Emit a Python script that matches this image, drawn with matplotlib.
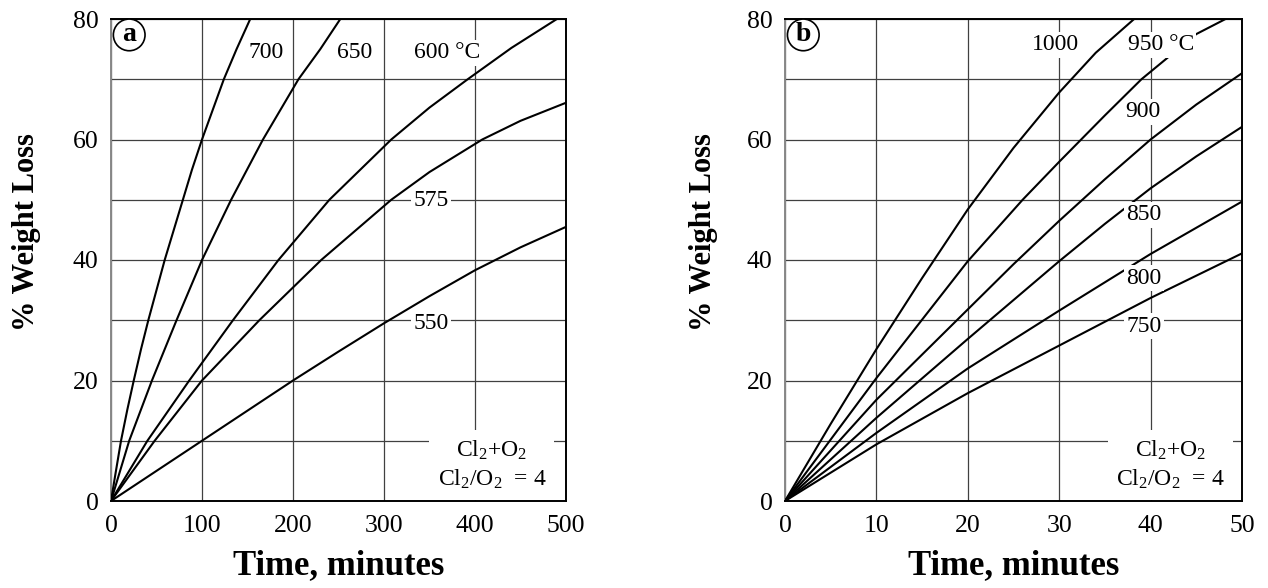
import numpy as np
import matplotlib
matplotlib.use("Agg")
import matplotlib.pyplot as plt

plt.rcParams['font.family'] = ['Liberation Serif', 'DejaVu Serif']
plt.rcParams['mathtext.fontset'] = 'custom'
plt.rcParams['mathtext.rm'] = 'Liberation Serif'
plt.rcParams['mathtext.it'] = 'Liberation Serif:italic'
plt.rcParams['mathtext.bf'] = 'Liberation Serif:bold'

# panel a: 550-700 C, time in minutes
t_a700 = [0, 5, 11, 18, 25, 33, 41, 50, 59, 69, 79, 89, 100, 112, 124, 138, 153]
w_a700 = [0, 4.6, 10, 15.2, 20, 25.2, 30, 35, 40, 45, 50, 55, 60, 65, 70, 75, 80]
t_a650 = [0, 20, 45, 72, 100, 132, 167, 206, 230, 252]
w_a650 = [0, 10, 20, 30, 40, 50, 60, 70, 75, 80]
t_a600 = [0, 40, 86, 134, 184, 240, 308, 350, 392, 440, 490]
w_a600 = [0, 10, 20, 30, 40, 50, 60, 65.3, 70, 75.2, 80]
t_a575 = [0, 48, 100, 163, 231, 308, 350, 408, 450, 500]
w_a575 = [0, 10, 20, 30, 40, 50, 54.6, 60, 63.1, 66.1]
t_a550 = [0, 100, 200, 250, 300, 350, 400, 450, 500]
w_a550 = [0, 10, 20, 24.8, 29.5, 34.0, 38.3, 42.1, 45.5]

# panel b: 750-1000 C
t_b1000 = [0, 5, 10, 15, 20, 25, 30, 34, 38.2]
w_b1000 = [0, 12.8, 25.2, 37.0, 48.4, 58.6, 67.8, 74.4, 80]
t_b950 = [0, 10, 20, 26, 30, 35, 39, 45, 48.2]
w_b950 = [0, 20.4, 39.8, 50, 56.3, 64.0, 70, 77.5, 80]
t_b900 = [0, 10, 20, 25, 30, 35, 40, 45, 50]
w_b900 = [0, 16.8, 31.8, 39.3, 46.5, 53.4, 60, 65.8, 71]
t_b850 = [0, 10, 20, 30, 35, 40, 45, 50]
w_b850 = [0, 13.8, 26.9, 39.8, 46.0, 51.9, 57.2, 62.1]
t_b800 = [0, 10, 20, 30, 40, 50]
w_b800 = [0, 11.3, 22.0, 31.6, 41.0, 49.7]
t_b750 = [0, 10, 20, 30, 40, 50]
w_b750 = [0, 9.4, 17.9, 25.8, 33.7, 41.1]

labels_a = ["700", "650", "600 °C", "575", "550"]
label_pos_a = [(170, 74.4), (268, 74.4), (369, 74.4), (352, 49.8), (352, 29.4)]
labels_b = ["1000", "950 °C", "900", "850", "800", "750"]
label_pos_b = [(29.6, 75.7), (41.1, 75.7), (39.2, 64.6), (39.3, 47.5), (39.3, 37.0), (39.3, 29.0)]

fig = plt.figure(figsize=(12.68, 5.88), dpi=100)
ax1 = fig.add_axes([111/1268, 87/588, 455/1268, 482/588])
ax2 = fig.add_axes([785/1268, 87/588, 457/1268, 482/588])


def style(ax, xmax, xstep, letter, ylab_x):
    ax.set_xlim(0, xmax)
    ax.set_ylim(0, 80)
    ax.set_xticks(np.arange(0, xmax + 1, xstep))
    ax.set_yticks(np.arange(0, 81, 20))
    ax.set_yticks(np.arange(10, 80, 20), minor=True)
    ax.tick_params(which='both', length=0, labelsize=18.5)
    ax.tick_params(axis='x', pad=10)
    ax.tick_params(axis='y', pad=9)
    ax.grid(True, which='both', color='#404040', linewidth=0.9)
    for tk in ax.yaxis.get_minor_ticks():
        if abs(tk.get_loc() - 70) < 1e-6:
            tk.gridline.set_color('#e6e6e6')
    ax.set_axisbelow(True)
    for s in ax.spines.values():
        s.set_linewidth(1.4)
    ax.spines['left'].set_color('#888888')
    ax.set_xlabel("Time, minutes", fontsize=25, fontweight='bold')
    ax.xaxis.set_label_coords(0.5, -0.100)
    ax.set_ylabel("% Weight Loss", fontsize=22, fontweight='bold')
    ax.yaxis.set_label_coords(ylab_x, 0.558)
    ax.text(0.04, 0.967, letter, transform=ax.transAxes, fontsize=20,
            fontweight='bold', ha='center', va='center',
            bbox=dict(boxstyle='circle,pad=0.12', fc='white', ec='black', lw=1.2))
    ax.text(0.837 if xmax == 500 else 0.843, 0.075,
            "Cl$_2$+O$_2$\nCl$_2$/O$_2$  = 4", transform=ax.transAxes,
            fontsize=17, ha='center', va='center', linespacing=1.35, zorder=5,
            bbox=dict(boxstyle='square,pad=0.35', fc='white', ec='none'))


lw = 1.5
for t, w in [(t_a700, w_a700), (t_a650, w_a650), (t_a600, w_a600),
             (t_a575, w_a575), (t_a550, w_a550)]:
    ax1.plot(t, w, color='black', lw=lw, zorder=3, solid_joinstyle='round')
for t, w in [(t_b1000, w_b1000), (t_b950, w_b950), (t_b900, w_b900),
             (t_b850, w_b850), (t_b800, w_b800), (t_b750, w_b750)]:
    ax2.plot(t, w, color='black', lw=lw, zorder=3, solid_joinstyle='round')

style(ax1, 500, 100, "a", -0.153)
style(ax2, 50, 10, "b", -0.147)

for lab, (x, y) in zip(labels_a, label_pos_a):
    ax1.text(x, y, lab, fontsize=17, ha='center', va='center', zorder=5,
             bbox=dict(boxstyle='square,pad=0.1', fc='white', ec='none'))
for lab, (x, y) in zip(labels_b, label_pos_b):
    ax2.text(x, y, lab, fontsize=17, ha='center', va='center', zorder=5,
             bbox=dict(boxstyle='square,pad=0.1', fc='white', ec='none'))

fig.savefig("out.png", dpi=100)
